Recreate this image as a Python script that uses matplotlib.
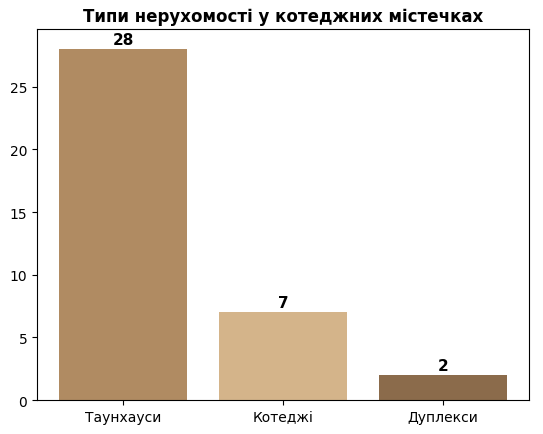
import matplotlib.pyplot as plt

# Property types in cottage towns
categories = ['Таунхауси', 'Котеджі', 'Дуплекси']
counts = [28, 7, 2]
colors = ['#b08b62', '#d4b48a', '#8b6b4b']

fig = plt.figure(figsize=(5.43, 4.35), dpi=100)
ax = fig.add_axes([0.068, 0.078, 0.907, 0.853])

bars = ax.bar(categories, counts, color=colors)
for bar, val in zip(bars, counts):
    ax.text(bar.get_x() + bar.get_width() / 2, bar.get_height() + 0.15, str(val),
            ha='center', va='bottom', fontsize=11, fontweight='bold')

ax.set_ylim(0, 29.6)
ax.set_title('Типи нерухомості у котеджних містечках', fontsize=12, fontweight='bold')

fig.savefig('out.png')
